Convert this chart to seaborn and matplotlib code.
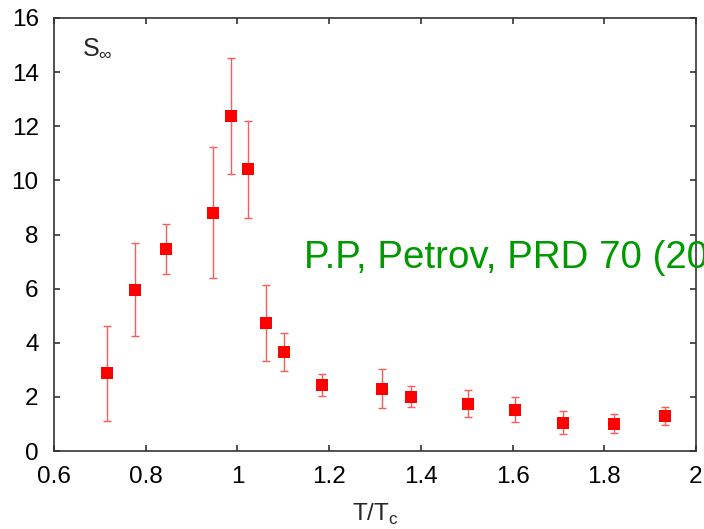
import matplotlib
matplotlib.use("Agg")
import matplotlib.pyplot as plt
import seaborn as sns
import numpy as np
import pandas as pd

# Data
t_over_tc = [0.715, 0.777, 0.844, 0.947, 0.986, 1.023, 1.062, 1.101,
             1.184, 1.315, 1.378, 1.503, 1.605, 1.710, 1.821, 1.932]
s_inf = [2.88, 5.95, 7.46, 8.80, 12.38, 10.42, 4.73, 3.66,
         2.44, 2.29, 2.00, 1.74, 1.52, 1.03, 0.99, 1.29]
err_hi = [4.62, 7.69, 8.39, 11.23, 14.52, 12.20, 6.13, 4.36,
          2.85, 3.03, 2.40, 2.25, 2.00, 1.48, 1.37, 1.63]
err_lo = [1.11, 4.25, 6.54, 6.39, 10.24, 8.60, 3.33, 2.96,
          2.03, 1.59, 1.63, 1.26, 1.07, 0.63, 0.67, 0.96]
x_ticks = [0.6, 0.8, 1.0, 1.2, 1.4, 1.6, 1.8, 2.0]
x_tick_labels = ["0.6", "0.8", "1", "1.2", "1.4", "1.6", "1.8", "2"]
y_ticks = [0, 2, 4, 6, 8, 10, 12, 14, 16]

df = pd.DataFrame({"T": t_over_tc, "S": s_inf, "hi": err_hi, "lo": err_lo})

sns.set_theme(style="ticks")
plt.rcParams["font.family"] = ["Liberation Sans", "DejaVu Sans"]
plt.rcParams["mathtext.fontset"] = "custom"
plt.rcParams["mathtext.rm"] = "Liberation Sans"

fig = plt.figure(figsize=(7.04, 5.29), dpi=100)
ax = fig.add_axes([54 / 704, 1 - 451 / 529, (696 - 54) / 704, (451 - 18) / 529])

yerr = np.vstack([df["S"] - df["lo"], df["hi"] - df["S"]])
ax.errorbar(df["T"], df["S"], yerr=yerr, fmt="none", ecolor="#ff5a5a",
            elinewidth=1.0, capsize=3.0, capthick=1.0, zorder=2)
sns.scatterplot(data=df, x="T", y="S", marker="s", s=75, color="#ff0000",
                edgecolor="none", linewidth=0, ax=ax, zorder=3)

ax.set_xlim(0.6, 2.0)
ax.set_ylim(0, 16)
ax.set_xticks(x_ticks)
ax.set_xticklabels(x_tick_labels)
ax.set_yticks(y_ticks)
ax.tick_params(direction="in", length=4.5, width=1.2, top=True, right=True,
               labelsize=17.5, colors="#333333", labelcolor="black", pad=11)
for sp in ax.spines.values():
    sp.set_linewidth(1.2)
    sp.set_color("#333333")

ax.set_xlabel("T/T$_\\mathregular{c}$", fontsize=17.5, labelpad=10)
ax.set_ylabel("")

ax.text(0.043, 0.96, "S$_\\mathregular{\\infty}$", transform=ax.transAxes,
        fontsize=18, va="top", ha="left",
        family=["Liberation Sans", "DejaVu Sans"])

fig.text(304 / 704, 1 - 268 / 529, "P.P, Petrov, PRD 70 (2004)",
         color="#009900", fontsize=27.7, va="baseline", ha="left")

fig.savefig("out.png", dpi=100)
